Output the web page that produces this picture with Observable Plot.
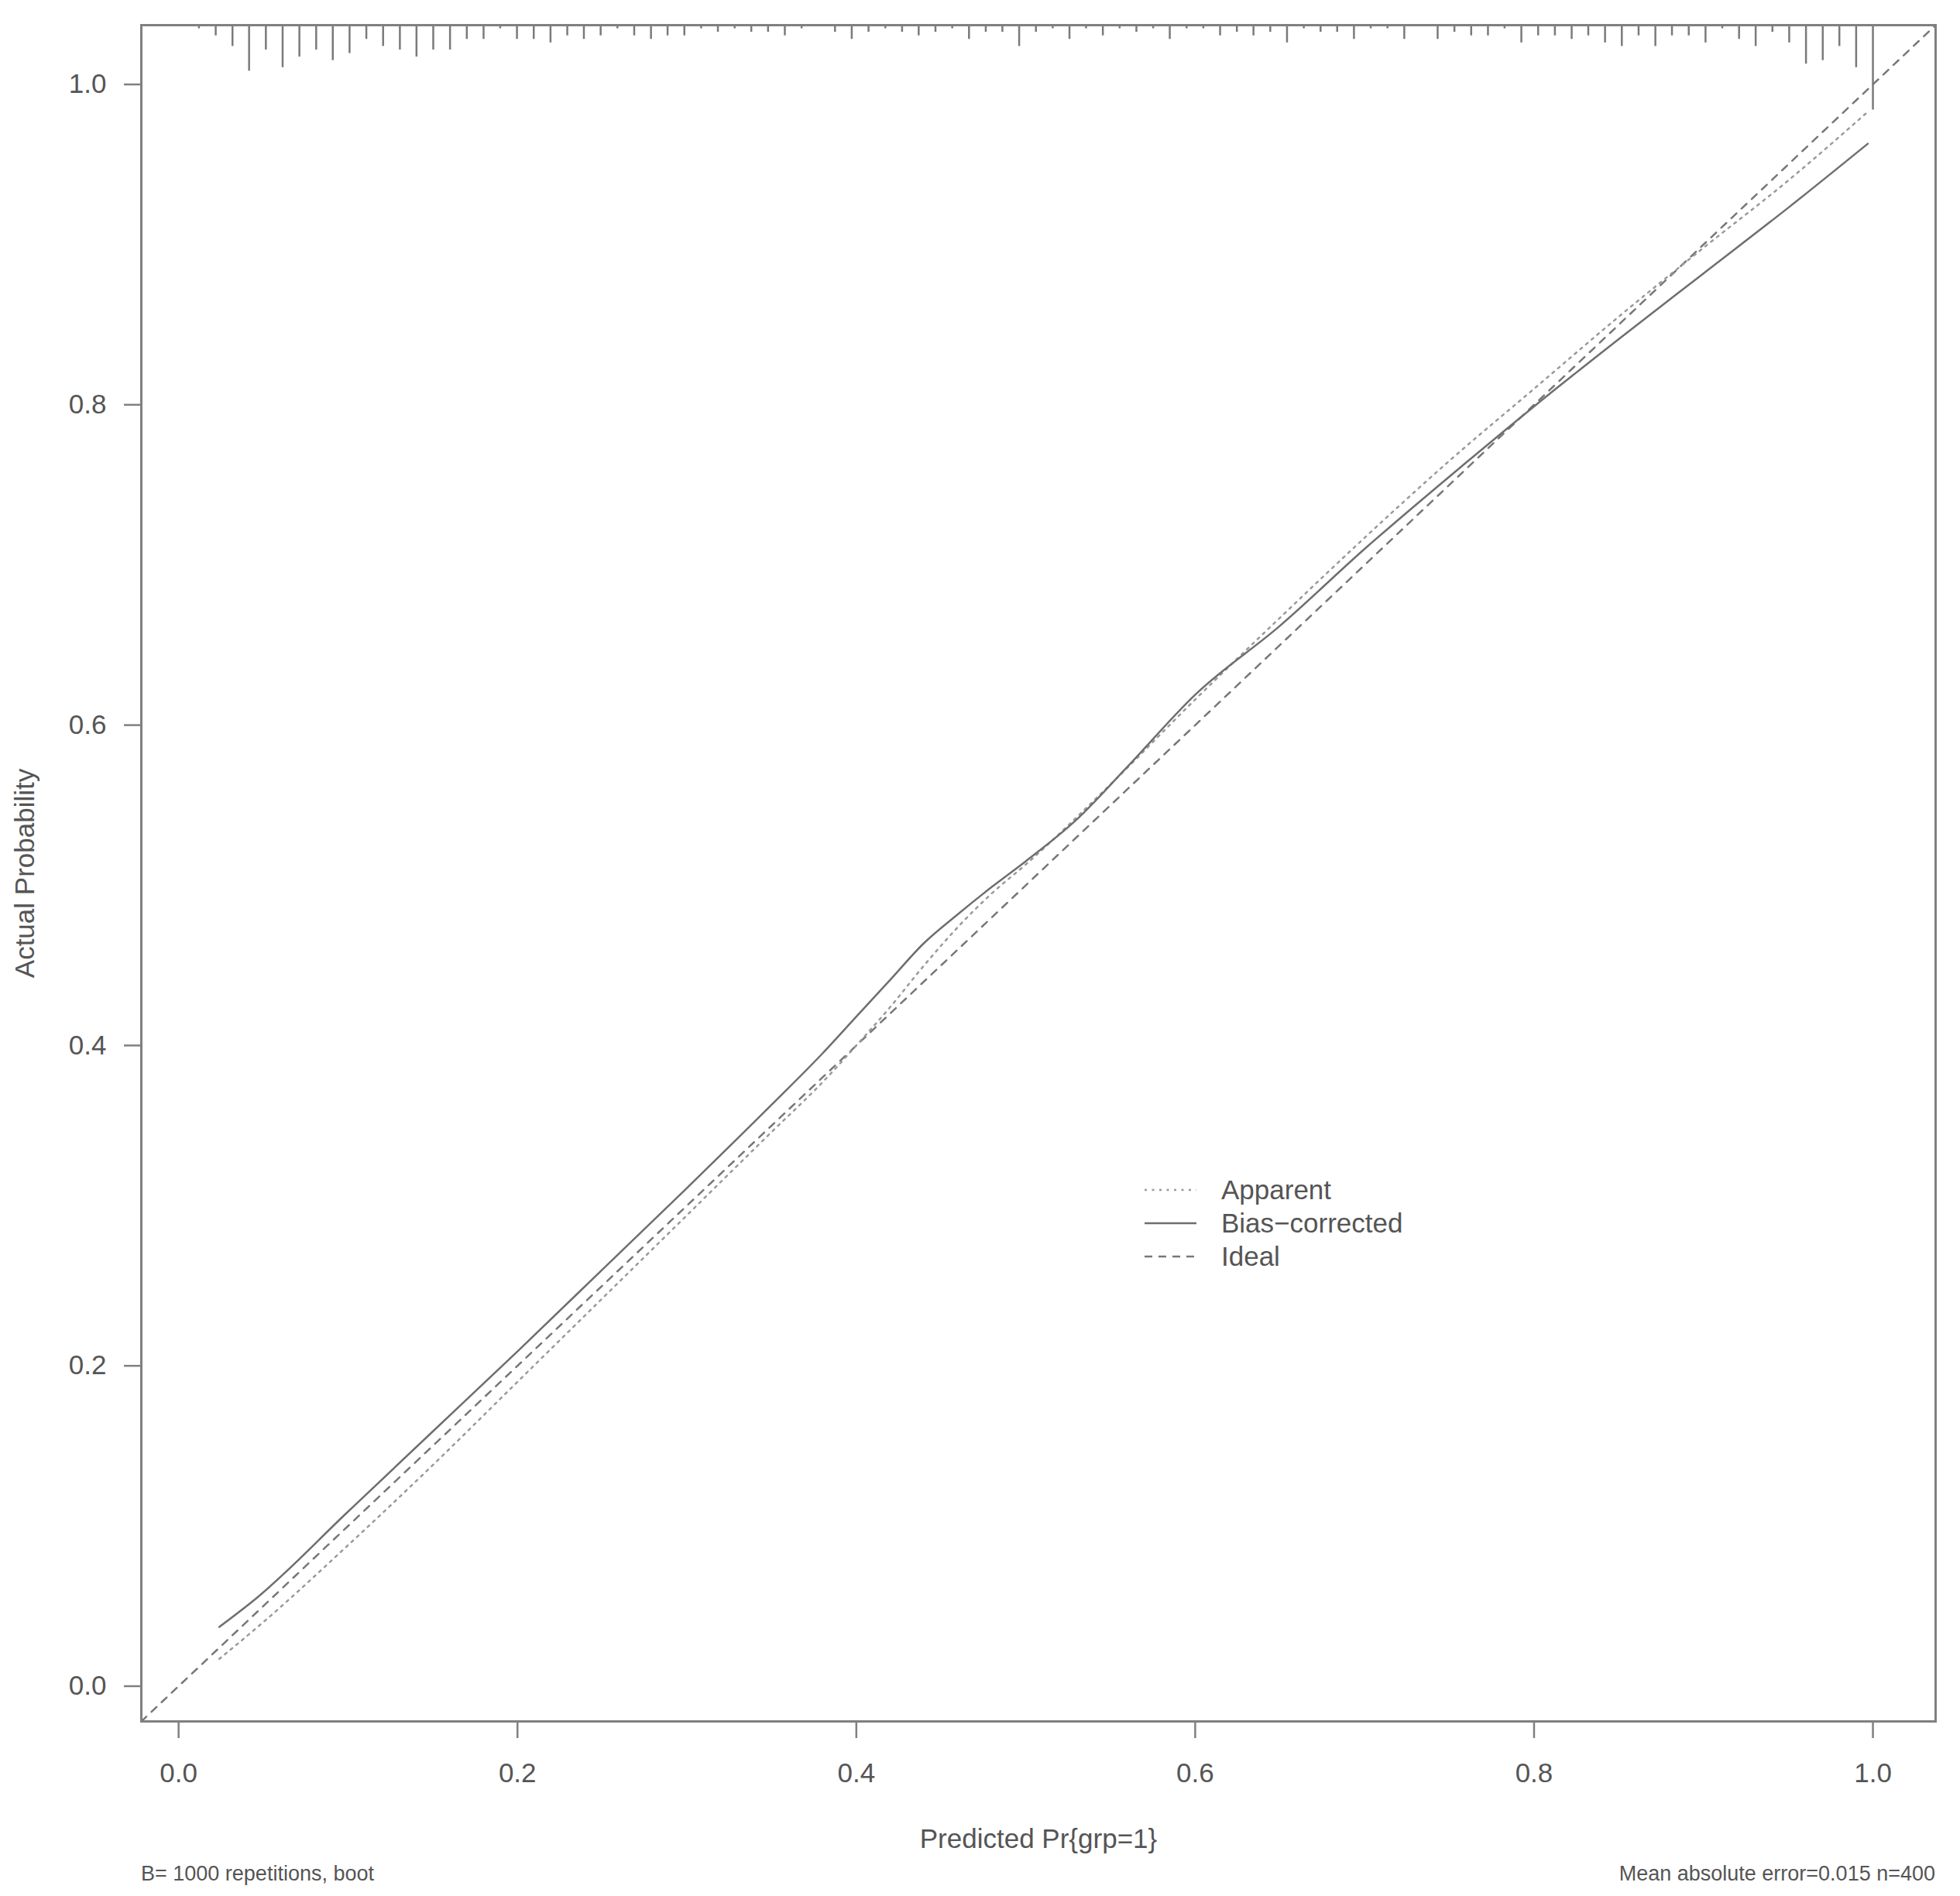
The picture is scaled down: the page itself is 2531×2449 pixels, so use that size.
<!DOCTYPE html>
<html>
<head>
<meta charset="utf-8">
<script src="https://cdn.jsdelivr.net/npm/d3@7"></script>
<script src="https://cdn.jsdelivr.net/npm/@observablehq/plot@0.6"></script>
<style>
  html, body { margin: 0; padding: 0; background: #fff; }
  #wrap { position: relative; width: 2531px; height: 2449px; overflow: hidden;
          font-family: "Liberation Sans", Arial, Helvetica, sans-serif; }
  #legend { position: absolute; left: 1470px; top: 1510px; }
  .cap { position: absolute; top: 2404px; font-size: 27px; line-height: 32px; color: #555; white-space: nowrap; }
</style>
</head>
<body>
<div id="wrap">
  <div id="chart"></div>
  <div id="legend"></div>
  <div class="cap" id="capL" style="left:182px"></div>
  <div class="cap" id="capR" style="right:32px"></div>
</div>
<script>
// ---------------- data ----------------
const axisLimits = [-0.022, 1.037];
const xTicks = [0.0, 0.2, 0.4, 0.6, 0.8, 1.0];
const yTicks = [0.0, 0.2, 0.4, 0.6, 0.8, 1.0];
const xLabel = "Predicted Pr{grp=1}";
const yLabel = "Actual Probability";
const captionLeft = "B= 1000 repetitions, boot";
const captionRight = "Mean absolute error=0.015 n=400";
const legendLabels = ["Apparent", "Bias\u2212corrected", "Ideal"];

// Apparent calibration curve (dotted)
const apparentX = [0.024, 0.05, 0.10, 0.15, 0.20, 0.25, 0.30, 0.35, 0.38, 0.40, 0.42, 0.44, 0.46, 0.48, 0.50, 0.55, 0.60, 0.65, 0.70, 0.75, 0.80, 0.85, 0.90, 0.95, 0.996];
const apparentY = [0.017, 0.040, 0.088, 0.138, 0.190, 0.242, 0.294, 0.346, 0.377, 0.400, 0.424, 0.450, 0.474, 0.495, 0.513, 0.563, 0.616, 0.667, 0.717, 0.765, 0.810, 0.855, 0.898, 0.940, 0.982];

// Bias-corrected calibration curve (solid)
const biasX = [0.024, 0.046, 0.10, 0.15, 0.20, 0.25, 0.30, 0.35, 0.38, 0.40, 0.42, 0.44, 0.46, 0.48, 0.50, 0.53, 0.56, 0.60, 0.65, 0.70, 0.76, 0.80, 0.85, 0.90, 0.95, 0.997];
const biasY = [0.037, 0.055, 0.109, 0.159, 0.209, 0.260, 0.311, 0.363, 0.395, 0.418, 0.441, 0.464, 0.482, 0.499, 0.515, 0.541, 0.574, 0.619, 0.662, 0.710, 0.764, 0.799, 0.841, 0.882, 0.923, 0.963];

// Ideal line (y = x) across the plot limits
const idealX = [-0.022, 1.037];

// Spike histogram of predicted probabilities (top rug): bin positions and counts
const spikeX = [0.0120,0.0219,0.0318,0.0416,0.0515,0.0614,0.0713,0.0812,0.0910,0.1009,
  0.1108,0.1207,0.1306,0.1404,0.1503,0.1602,0.1701,0.1800,0.1898,0.1997,
  0.2096,0.2195,0.2294,0.2392,0.2491,0.2590,0.2689,0.2788,0.2886,0.2985,
  0.3084,0.3183,0.3282,0.3380,0.3479,0.3578,0.3677,0.3776,0.3874,0.3973,
  0.4072,0.4171,0.4270,0.4368,0.4467,0.4566,0.4665,0.4764,0.4862,0.4961,
  0.5060,0.5159,0.5258,0.5356,0.5455,0.5554,0.5653,0.5752,0.5850,0.5949,
  0.6048,0.6147,0.6246,0.6344,0.6443,0.6542,0.6641,0.6740,0.6838,0.6937,
  0.7036,0.7135,0.7234,0.7332,0.7431,0.7530,0.7629,0.7728,0.7826,0.7925,
  0.8024,0.8123,0.8222,0.8320,0.8419,0.8518,0.8617,0.8716,0.8814,0.8913,
  0.9012,0.9111,0.9210,0.9308,0.9407,0.9506,0.9605,0.9704,0.9802,0.9901,1.0000];
const spikeCount = [1,3,6,13,7,12,9,7,10,8,
  4,6,7,9,7,7,4,4,1,4,
  4,5,3,4,3,1,3,4,3,3,
  1,2,1,2,2,3,1,0,2,4,
  2,1,2,3,2,1,4,2,2,6,
  2,1,4,1,3,1,2,1,4,1,
  1,3,2,3,2,5,1,2,2,4,
  1,1,4,0,4,2,3,3,1,5,
  3,3,4,3,5,6,3,6,3,3,
  5,1,4,6,2,5,11,10,6,12,24];

// ---------------- build ----------------
const FONT = "'Liberation Sans', Arial, Helvetica, sans-serif";
const GRAY_LINE = "#6e6e6e";
const GRAY_FRAME = "#808080";
const GRAY_TEXT = "#555555";

const apparent = apparentX.map((x, i) => ({x, y: apparentY[i]}));
const bias = biasX.map((x, i) => ({x, y: biasY[i]}));
const ideal = idealX.map(x => ({x, y: x}));
const spikes = spikeX.map((x, i) => ({x, count: spikeCount[i]})).filter(d => d.count > 0);
const spikeUnit = 0.05 * (axisLimits[1] - axisLimits[0]) / d3.max(spikeCount);

const W = 2531, H = 2400, frameBottom = 2223;

const chart = Plot.plot({
  width: W,
  height: H,
  marginLeft: 182,
  marginRight: 32,
  marginTop: 32,
  marginBottom: H - frameBottom,
  style: {fontFamily: FONT, fontSize: "35px", color: GRAY_TEXT, background: "#fff", overflow: "visible"},
  x: {domain: axisLimits},
  y: {domain: axisLimits},
  marks: [
    Plot.axisX({ticks: xTicks, tickFormat: d3.format(".1f"), tickSize: 22, tickPadding: 32,
      stroke: GRAY_FRAME, strokeWidth: 2.5, fill: GRAY_TEXT, fontSize: 35,
      label: xLabel, labelAnchor: "center", labelOffset: 163, labelArrow: "none"}),
    Plot.axisY({ticks: yTicks, tickFormat: d3.format(".1f"), tickSize: 22, tickPadding: 23,
      stroke: GRAY_FRAME, strokeWidth: 2.5, fill: GRAY_TEXT, fontSize: 35,
      label: yLabel, labelAnchor: "center", labelOffset: 163, labelArrow: "none"}),
    Plot.ruleX(spikes, {x: "x", y1: axisLimits[1], y2: d => axisLimits[1] - d.count * spikeUnit,
      stroke: "#7a7a7a", strokeWidth: 2.5}),
    Plot.line(ideal, {x: "x", y: "y", stroke: "#777", strokeWidth: 2.5, strokeDasharray: "9,9", clip: true}),
    Plot.line(apparent, {x: "x", y: "y", stroke: "#9a9a9a", strokeWidth: 2.5, strokeDasharray: "3,6.5", curve: "monotone-x"}),
    Plot.line(bias, {x: "x", y: "y", stroke: GRAY_LINE, strokeWidth: 2.5, curve: "monotone-x"}),
    Plot.frame({stroke: GRAY_FRAME, strokeWidth: 3})
  ]
});
document.getElementById("chart").appendChild(chart);

// legend (inside plot region, as in the reference)
const legendStyles = [
  {dash: "3,6.5", stroke: "#9a9a9a"},
  {dash: null, stroke: GRAY_LINE},
  {dash: "10,8", stroke: "#777"}
];
const lg = d3.select("#legend").append("svg").attr("width", 420).attr("height", 140)
  .style("font-family", FONT).style("overflow", "visible");
legendLabels.forEach((lab, i) => {
  const yy = 27 + i * 43;
  lg.append("line").attr("x1", 8).attr("x2", 75).attr("y1", yy).attr("y2", yy)
    .attr("stroke", legendStyles[i].stroke).attr("stroke-width", 2.5)
    .attr("stroke-dasharray", legendStyles[i].dash);
  lg.append("text").attr("x", 107).attr("y", yy).attr("dy", "0.35em")
    .attr("font-size", 35).attr("fill", GRAY_TEXT).text(lab);
});

document.getElementById("capL").textContent = captionLeft;
document.getElementById("capR").textContent = captionRight;
</script>
</body>
</html>
